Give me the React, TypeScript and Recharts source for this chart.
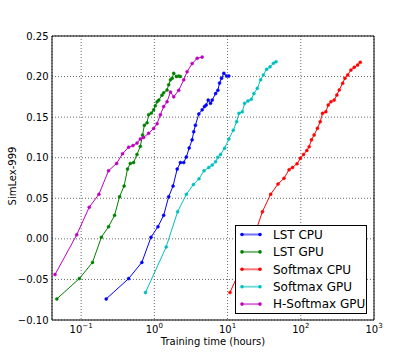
import { LineChart, Line, XAxis, YAxis, CartesianGrid, Legend } from 'recharts';

// [training hours, SimLex-999 score]
const lstCpu = [
  [0.22, -0.074], [0.445, -0.049], [0.675, -0.029], [0.9, 0.002], [1.12, 0.015], [1.34, 0.029],
  [1.57, 0.052], [1.8, 0.065], [2.05, 0.086], [2.27, 0.094], [2.52, 0.094], [2.74, 0.101],
  [2.99, 0.112], [3.28, 0.122], [3.45, 0.132], [3.64, 0.14], [4.05, 0.154], [4.5, 0.159],
  [4.84, 0.163], [5.1, 0.165], [5.44, 0.171], [5.85, 0.167], [6.17, 0.171], [6.86, 0.179],
  [7.37, 0.183], [7.77, 0.192], [8.27, 0.198], [8.9, 0.204], [9.7, 0.2007], [10.4, 0.2007],
];

const lstGpu = [
  [0.0465, -0.074], [0.0945, -0.049], [0.143, -0.029], [0.189, 0.002], [0.237, 0.015], [0.286, 0.029],
  [0.335, 0.052], [0.386, 0.065], [0.43, 0.086], [0.469, 0.093], [0.52, 0.094], [0.579, 0.104],
  [0.643, 0.114], [0.69, 0.128], [0.73, 0.14], [0.794, 0.143], [0.836, 0.153], [0.91, 0.155],
  [0.978, 0.159], [1.03, 0.164], [1.09, 0.169], [1.15, 0.171], [1.27, 0.177], [1.34, 0.18],
  [1.49, 0.1835], [1.57, 0.19], [1.66, 0.196], [1.75, 0.198], [1.84, 0.204], [2.0, 0.2],
  [2.15, 0.2007], [2.27, 0.2],
];

const softmaxCpu = [
  [10.8, -0.066], [20.5, -0.01], [29.9, 0.0335], [38.8, 0.055], [48.9, 0.0676], [59.0, 0.0746],
  [69.2, 0.0852], [76.9, 0.088], [88.9, 0.0926], [98.8, 0.0993], [109, 0.104], [121, 0.109],
  [130, 0.1136], [140, 0.122], [152, 0.128], [169, 0.1363], [184, 0.1444], [198, 0.1547],
  [220, 0.1567], [237, 0.165], [258, 0.169], [286, 0.171], [311, 0.1773], [335, 0.1835],
  [373, 0.1917], [401, 0.198], [437, 0.202], [484, 0.208], [537, 0.2114], [598, 0.2143],
  [649, 0.2176],
];

const softmaxGpu = [
  [0.757, -0.066], [1.45, -0.01], [2.08, 0.0335], [2.74, 0.055], [3.42, 0.067], [4.07, 0.074],
  [4.77, 0.084], [5.54, 0.088], [6.17, 0.091], [6.85, 0.095], [7.37, 0.1005], [8.0, 0.104],
  [9.1, 0.1116], [10.4, 0.123], [11.97, 0.134], [13.3, 0.1444], [14.3, 0.1547], [15.9, 0.1567],
  [17.1, 0.167], [19.0, 0.17], [21.1, 0.172], [22.9, 0.179], [25.5, 0.1856], [28.3, 0.196],
  [30.8, 0.202], [34.2, 0.209], [38.0, 0.212], [42.3, 0.2164], [45.9, 0.2183],
];

const hSoftmaxGpu = [
  [0.044, -0.044], [0.087, 0.005], [0.129, 0.039], [0.175, 0.055], [0.237, 0.084], [0.305, 0.093],
  [0.368, 0.105], [0.445, 0.113], [0.51, 0.115], [0.58, 0.118], [0.643, 0.123], [0.713, 0.125],
  [0.835, 0.13], [0.977, 0.136], [1.09, 0.142], [1.21, 0.153], [1.34, 0.163], [1.49, 0.169],
  [1.66, 0.181], [1.84, 0.175], [2.15, 0.183], [2.52, 0.196], [2.8, 0.206], [3.28, 0.216],
  [3.84, 0.2225], [4.5, 0.224],
];

const seriesNames = ['LST CPU', 'LST GPU', 'Softmax CPU', 'Softmax GPU', 'H-Softmax GPU'];
const seriesColors = ['#0000ff', '#008000', '#ff0000', '#00bfbf', '#bf00bf'];
const seriesData = [lstCpu, lstGpu, softmaxCpu, softmaxGpu, hSoftmaxGpu];

const xMajor = [0.1, 1, 10, 100, 1000];
const xMinorSteps = [2, 3, 4, 5, 6, 7, 8, 9];
const xDecades = [0.01, 0.1, 1, 10, 100];
const xMinor = xDecades
  .flatMap((d) => xMinorSteps.map((m) => Number((m * d).toPrecision(3))))
  .filter((v) => v >= 0.04 && v < 1000);
const yTicks = [-0.1, -0.05, 0, 0.05, 0.1, 0.15, 0.2, 0.25];

const FONT = 'DejaVu Sans, sans-serif';

const series = seriesNames.map((name, i) => ({
  name,
  color: seriesColors[i],
  data: seriesData[i].map(([t, v]) => ({ t, v })),
}));

function XTick({ x, y, payload }: any) {
  const exp = Math.round(Math.log10(payload.value));
  const expText = exp < 0 ? `\u2212${-exp}` : `${exp}`;
  return (
    <text x={x} y={y + 13} textAnchor="middle" fontSize={10} fontFamily={FONT} fill="#000">
      <tspan>10</tspan>
      <tspan dy={-5} fontSize={7}>{expText}</tspan>
    </text>
  );
}

function YTick({ x, y, payload }: any) {
  const label = payload.value.toFixed(2).replace('-', '\u2212');
  return (
    <text x={x - 3.5} y={y + 3.6} textAnchor="end" fontSize={10} fontFamily={FONT} fill="#000">
      {label}
    </text>
  );
}

function LegendBox() {
  return (
    <div style={{ width: 130, height: 87, border: '1px solid #000', background: '#fff' }}>
      <svg width={130} height={87}>
        {series.map((s, i) => {
          const cy = 8.5 + i * 17.4;
          return (
            <g key={s.name}>
              <line x1={6} x2={24} y1={cy} y2={cy} stroke={s.color} strokeWidth={2} strokeOpacity={0.55} />
              <circle cx={6} cy={cy} r={1.8} fill={s.color} />
              <circle cx={24} cy={cy} r={1.8} fill={s.color} />
              <text x={37} y={cy + 4.3} fontSize={12} fontFamily={FONT} fill="#000">
                {s.name}
              </text>
            </g>
          );
        })}
      </svg>
    </div>
  );
}

export default function App() {
  return (
    <div style={{ position: 'absolute', left: 0, top: 0, width: 415, height: 356, background: '#fff' }}>
      <LineChart width={415} height={356} margin={{ top: 36, right: 41, bottom: 0, left: 0 }}>
        <CartesianGrid xAxisId="x" yAxisId="y" stroke="#444" strokeDasharray="1 2" strokeWidth={0.8} />
        <XAxis
          xAxisId="x"
          dataKey="t"
          type="number"
          scale="log"
          domain={[0.04, 1000]}
          allowDataOverflow
          ticks={xMajor}
          tickLine={false}
          tickSize={0}
          tickMargin={0}
          height={36}
          axisLine={{ stroke: '#000' }}
          tick={<XTick />}
          label={({ viewBox }: any) => (
            <text x={viewBox.x + viewBox.width / 2} y={345} textAnchor="middle" fontSize={10} fontFamily={FONT} fill="#000">
              Training time (hours)
            </text>
          )}
        />
        <XAxis xAxisId="bmaj" type="number" scale="log" domain={[0.04, 1000]} allowDataOverflow ticks={xMajor} mirror tick={false} tickSize={4} axisLine={false} tickLine={{ stroke: '#000' }} />
        <XAxis xAxisId="bmin" type="number" scale="log" domain={[0.04, 1000]} allowDataOverflow ticks={xMinor} mirror tick={false} tickSize={2} axisLine={false} tickLine={{ stroke: '#000' }} />
        <XAxis xAxisId="tmaj" orientation="top" type="number" scale="log" domain={[0.04, 1000]} allowDataOverflow ticks={xMajor} mirror tick={false} tickSize={4} axisLine={{ stroke: '#000' }} tickLine={{ stroke: '#000' }} />
        <XAxis xAxisId="tmin" orientation="top" type="number" scale="log" domain={[0.04, 1000]} allowDataOverflow ticks={xMinor} mirror tick={false} tickSize={2} axisLine={false} tickLine={{ stroke: '#000' }} />
        <YAxis
          yAxisId="y"
          type="number"
          domain={[-0.1, 0.25]}
          allowDataOverflow
          ticks={yTicks}
          width={52}
          tickLine={false}
          tickSize={0}
          tickMargin={0}
          axisLine={{ stroke: '#000' }}
          tick={<YTick />}
          label={({ viewBox }: any) => (
            <text
              transform={`translate(16, ${viewBox.y + viewBox.height / 2 - 2}) rotate(-90)`}
              textAnchor="middle"
              fontSize={10}
              fontFamily={FONT}
              fill="#000"
            >
              SimLex-999
            </text>
          )}
        />
        <YAxis yAxisId="lmaj" type="number" domain={[-0.1, 0.25]} allowDataOverflow ticks={yTicks} mirror tick={false} tickSize={4} axisLine={false} tickLine={{ stroke: '#000' }} />
        <YAxis yAxisId="rmaj" orientation="right" type="number" domain={[-0.1, 0.25]} allowDataOverflow ticks={yTicks} mirror tick={false} tickSize={4} axisLine={{ stroke: '#000' }} tickLine={{ stroke: '#000' }} />
        {series.map((s) => (
          <Line
            key={s.name}
            xAxisId="x"
            yAxisId="y"
            data={s.data}
            dataKey="v"
            name={s.name}
            type="linear"
            stroke={s.color}
            strokeWidth={1}
            dot={{ r: 1.5, fill: s.color, stroke: s.color, strokeWidth: 0.5 }}
            activeDot={false}
            isAnimationActive={false}
          />
        ))}
        <Legend
          layout="vertical"
          align="center"
          verticalAlign="middle"
          content={() => <LegendBox />}
          wrapperStyle={{ position: 'absolute', left: 235, top: 225, width: 132, height: 89 }}
        />
      </LineChart>
    </div>
  );
}
